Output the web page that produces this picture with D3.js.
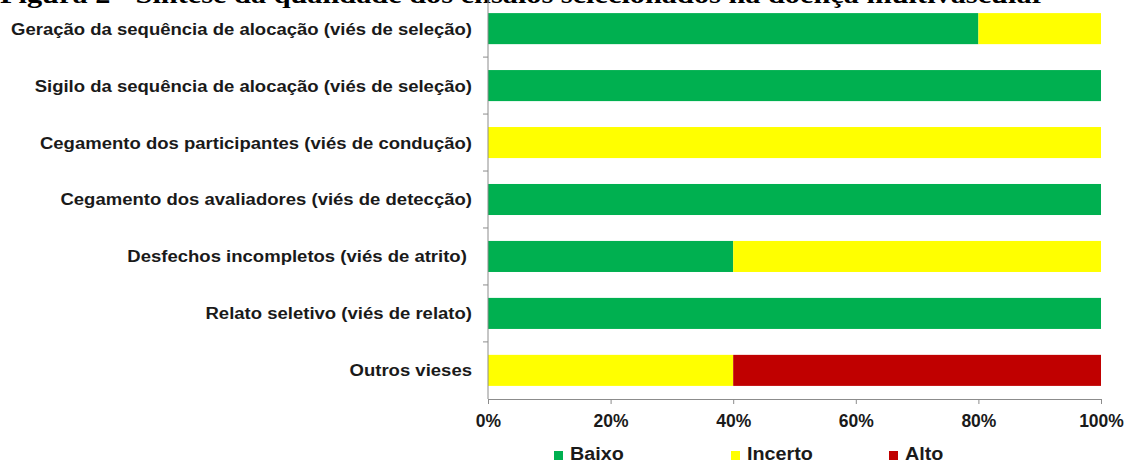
<!DOCTYPE html>
<html>
<head>
<meta charset="utf-8">
<script src="https://cdn.jsdelivr.net/npm/d3@7"></script>
<style>
    body { margin: 0; background: #fff; }
    svg { display: block; }
    .lbl { font-family: "Liberation Sans", Arial, sans-serif; font-weight: bold; font-size: 17px; fill: #1a1a1a; white-space: pre; }
</style>
</head>
<body>
<div id="chart"></div>
<script>

// categories (top to bottom)
let categories = [
    "Geração da sequência de alocação (viés de seleção)",
    "Sigilo da sequência de alocação (viés de seleção)",
    "Cegamento dos participantes (viés de condução)",
    "Cegamento dos avaliadores (viés de detecção)",
    "Desfechos incompletos (viés de atrito) ",
    "Relato seletivo (viés de relato)",
    "Outros vieses"
];

// series values, percent
let baixo   = [80, 100, 0, 100, 40, 100, 0];
let incerto = [20, 0, 100, 0, 60, 0, 40];
let alto    = [0, 0, 0, 0, 0, 0, 60];

let seriesNames = ["Baixo", "Incerto", "Alto"];
let seriesColors = ["#00B050", "#FFFF00", "#C00000"];

let xTicks = [0, 20, 40, 60, 80, 100];

let title = "Figura 2 - Síntese da qualidade dos ensaios selecionados na doença multivascular";

// drawing area
let width = 1127, height = 464;
let margin = {top: 0, left: 488, right: 26, bottom: 65};
let stretch = 1.09; // the source picture is a little wider than tall

let svg = d3.select("#chart").append("svg")
    .attr("width", width)
    .attr("height", height);

// title (cropped at top of the picture)
svg.append("text")
    .attr("x", 0)
    .attr("y", 3)
    .attr("textLength", 1045)
    .attr("lengthAdjust", "spacingAndGlyphs")
    .style("font-family", "'Liberation Serif', 'Times New Roman', serif")
    .style("font-weight", "bold")
    .style("font-size", "25px")
    .text(title);

// build stacked table
let table = categories.map((c, i) => ({cat: c, Baixo: baixo[i], Incerto: incerto[i], Alto: alto[i]}));
let stack = d3.stack().keys(seriesNames)(table);

let x = d3.scaleLinear()
    .domain([0, 100])
    .range([margin.left, width - margin.right]);

let y = d3.scaleBand()
    .domain(categories)
    .range([margin.top, height - margin.bottom])
    .paddingInner(0.455)
    .paddingOuter(0.23);

let color = d3.scaleOrdinal().domain(seriesNames).range(seriesColors);

// bars
svg.append("g").selectAll("g")
    .data(stack)
    .enter().append("g")
    .attr("fill", d => color(d.key))
    .selectAll("rect")
    .data(d => d)
    .enter().append("rect")
    .attr("x", d => x(d[0]))
    .attr("y", d => y(d.data.cat))
    .attr("width", d => x(d[1]) - x(d[0]))
    .attr("height", y.bandwidth());

let axisColor = "#8c8c8c";
let y0 = height - margin.bottom;

// x axis
let xAxis = svg.append("g")
    .attr("transform", `translate(0, ${y0})`)
    .call(d3.axisBottom(x).tickValues(xTicks).tickFormat(d => d + "%").tickSize(5).tickSizeOuter(0));
xAxis.select(".domain").attr("stroke", axisColor);
xAxis.selectAll(".tick line").attr("stroke", axisColor);
xAxis.selectAll(".tick text")
    .attr("class", "lbl")
    .attr("y", 16)
    .attr("dy", "0.71em")
    .style("font-size", "17.5px");

// y axis: line plus ticks between categories
let yAxis = svg.append("g");
yAxis.append("line")
    .attr("x1", margin.left).attr("x2", margin.left)
    .attr("y1", margin.top).attr("y2", y0)
    .attr("stroke", axisColor);
let step = y.step();
let bounds = categories.slice(1).map(c => y(c) - step * y.paddingInner() / 2);
yAxis.selectAll(".ytick")
    .data(bounds)
    .enter().append("line")
    .attr("x1", margin.left - 5).attr("x2", margin.left)
    .attr("y1", d => d).attr("y2", d => d)
    .attr("stroke", axisColor);

// category labels
svg.append("g").selectAll("text")
    .data(categories)
    .enter().append("text")
    .attr("class", "lbl")
    .attr("transform", d => `translate(${margin.left - 16}, ${y(d) + y.bandwidth() / 2}) scale(${stretch}, 1)`)
    .attr("dy", "0.35em")
    .attr("text-anchor", "end")
    .text(d => d);

// legend
let legendX = [554, 731, 889];
let legend = svg.append("g").selectAll("g")
    .data(seriesNames)
    .enter().append("g")
    .attr("transform", (d, i) => `translate(${legendX[i]}, 451)`);
legend.append("rect")
    .attr("width", 9).attr("height", 9)
    .attr("fill", d => color(d));
legend.append("text")
    .attr("class", "lbl")
    .style("font-size", "17.5px")
    .attr("transform", `translate(16, 4.5) scale(1.13, 1)`)
    .attr("dy", "0.27em")
    .text(d => d);

</script>
</body>
</html>
